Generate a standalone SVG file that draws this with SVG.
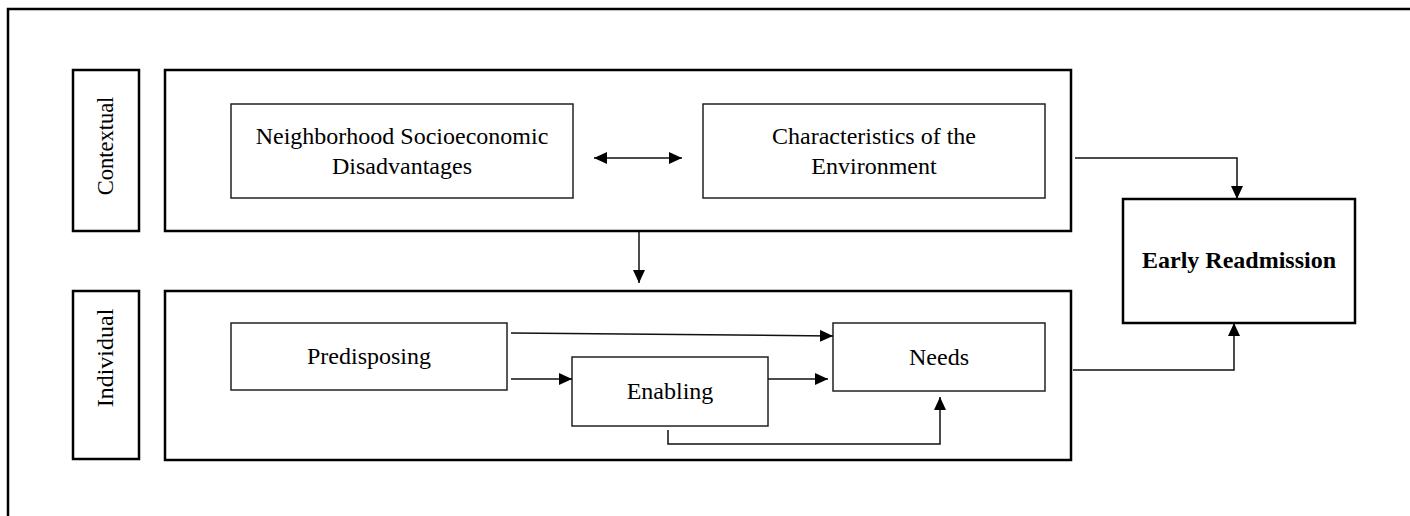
<svg xmlns="http://www.w3.org/2000/svg" width="1410" height="516" viewBox="0 0 1410 516">
<defs>
<marker id="ah" viewBox="0 0 13 12" refX="13" refY="6" markerWidth="13" markerHeight="12" markerUnits="userSpaceOnUse" orient="auto-start-reverse">
<path d="M0,0 L13,6 L0,12 Z" fill="#000"/>
</marker>
</defs>
<style>
.frame{fill:none;stroke:#000;stroke-width:2.5}
.outer{fill:#fff;stroke:#000;stroke-width:2.5}
.inner{fill:#fff;stroke:#222;stroke-width:1.5}
.conn{fill:none;stroke:#111;stroke-width:1.5}
.t{font-family:"Liberation Serif","Times New Roman",serif;font-size:24px;fill:#000;text-anchor:middle}
.b{font-weight:bold}
</style>
<rect width="1410" height="516" fill="#fff"/>
<path class="frame" d="M8,516 V9 H1410"/>
<g id="contextual-label">
<rect class="outer" x="73" y="70" width="66" height="161"/>
<text class="t" transform="translate(113,146) rotate(-90)" style="font-size:22.5px">Contextual</text>
</g>
<g id="individual-label">
<rect class="outer" x="73" y="291" width="66" height="168"/>
<text class="t" transform="translate(113,358) rotate(-90)">Individual</text>
</g>
<g id="contextual-group">
<rect class="outer" x="165" y="70" width="906" height="161"/>
</g>
<g id="individual-group">
<rect class="outer" x="165" y="291" width="906" height="169"/>
</g>
<g id="neighborhood">
<rect class="inner" x="231" y="104" width="342" height="94"/>
<text class="t" x="402" y="144">Neighborhood Socioeconomic</text>
<text class="t" x="402" y="174">Disadvantages</text>
</g>
<g id="environment">
<rect class="inner" x="703" y="104" width="342" height="94"/>
<text class="t" x="874" y="144">Characteristics of the</text>
<text class="t" x="874" y="174">Environment</text>
</g>
<g id="predisposing">
<rect class="inner" x="231" y="323" width="276" height="67"/>
<text class="t" x="369" y="364">Predisposing</text>
</g>
<g id="enabling">
<rect class="inner" x="572" y="357" width="196" height="69"/>
<text class="t" x="670" y="399">Enabling</text>
</g>
<g id="needs">
<rect class="inner" x="833" y="323" width="212" height="68"/>
<text class="t" x="939" y="365">Needs</text>
</g>
<g id="early-readmission">
<rect class="outer" x="1123" y="199" width="232" height="124" stroke-width="3"/>
<text class="t b" x="1239" y="268">Early Readmission</text>
</g>
<g id="connectors">
<line class="conn" x1="594" y1="158" x2="682" y2="158" marker-start="url(#ah)" marker-end="url(#ah)"/>
<path class="conn" d="M1075,158 H1237 V199" marker-end="url(#ah)"/>
<path class="conn" d="M1073,370 H1234 V323" marker-end="url(#ah)"/>
<line class="conn" x1="639" y1="232" x2="639" y2="283" marker-end="url(#ah)"/>
<line class="conn" x1="511" y1="333" x2="833" y2="336" marker-end="url(#ah)"/>
<line class="conn" x1="511" y1="379" x2="572" y2="379" marker-end="url(#ah)"/>
<line class="conn" x1="768" y1="379" x2="828" y2="379" marker-end="url(#ah)"/>
<path class="conn" d="M668,430 V444 H940 V397" marker-end="url(#ah)"/>
</g>
</svg>
